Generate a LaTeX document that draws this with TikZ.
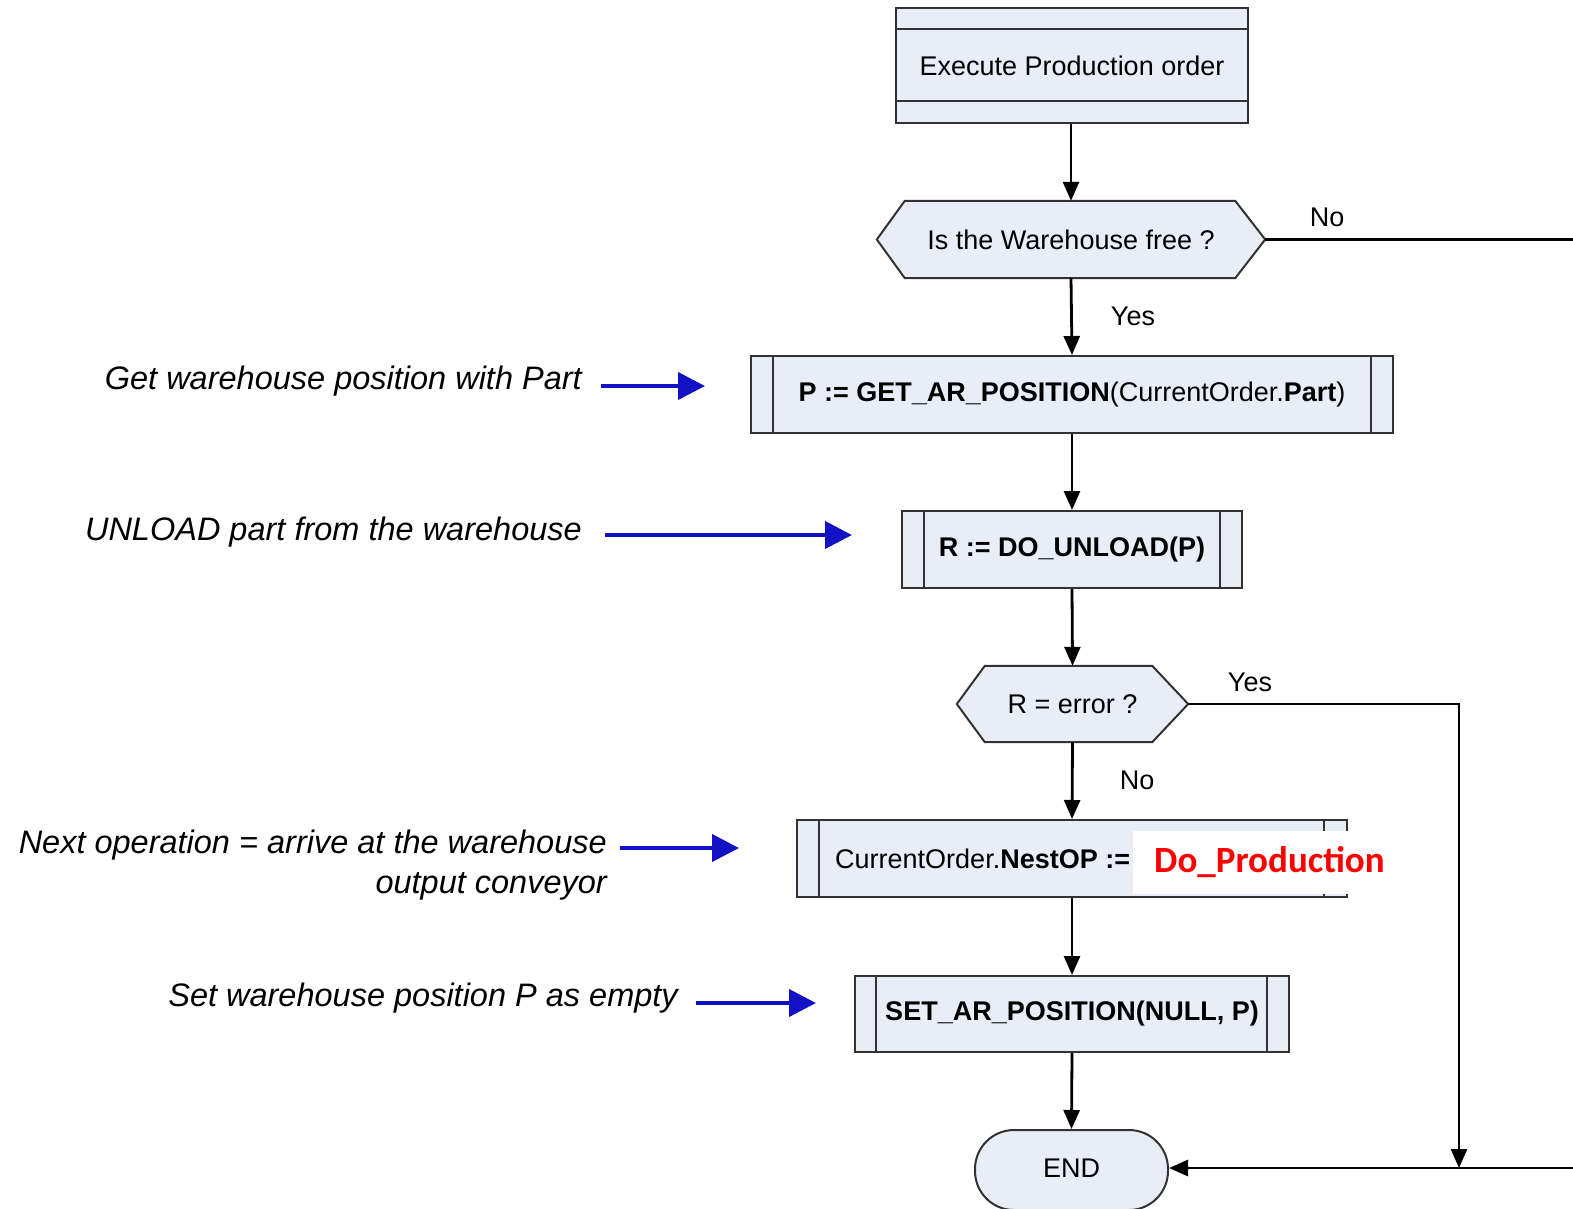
\documentclass[tikz,border=0pt]{standalone}
\usepackage{fontspec}
\setmainfont{Liberation Sans}
\newfontfamily\calfont{Carlito}
\usetikzlibrary{arrows.meta}
\pgfdeclarelayer{bg}
\pgfsetlayers{bg,main}
\definecolor{boxfill}{RGB}{232,237,247}
\definecolor{noteblue}{RGB}{18,18,196}
\definecolor{outline}{RGB}{50,50,50}
\definecolor{hotred}{RGB}{255,0,0}

\begin{document}
\begin{tikzpicture}[x=1pt,y=-1pt,
  base/.style={font=\fontsize{27pt}{32pt}\selectfont, inner sep=0pt},
  procbox/.style={base, draw=outline, line width=2pt, fill=boxfill,
                  minimum width=#1, minimum height=77pt},
  decnode/.style={base, minimum width=#1, minimum height=77pt},
  hexline/.style={draw=outline, line width=2pt, fill=boxfill},
  innerline/.style={outline, line width=1.6pt},
  flow/.style={line width=2.8pt, -{Triangle[length=19pt,width=16pt]}},
  plainflow/.style={line width=2.8pt},
  lbl/.style={base},
  note/.style={font=\fontsize{32.5pt}{40pt}\selectfont\itshape, inner sep=0pt, align=right},
  notearrow/.style={noteblue, line width=4pt, -{Triangle[length=27pt,width=27pt]}}
]
\useasboundingbox (0,0) rectangle (1573,1209);

% --- main chain of steps ---
\node[procbox=352, minimum height=115pt] (start) at (1072,65.5) {Execute Production order};
\draw[innerline] ([yshift=-22]start.north west) -- ([yshift=-22]start.north east);
\draw[innerline] ([yshift=23]start.south west) -- ([yshift=23]start.south east);

\node[decnode=388] (d1) at (1071,239.5) {Is the Warehouse free ?};
\begin{pgfonlayer}{bg}
\draw[hexline] (d1.west) -- ([xshift=28]d1.north west) -- ([xshift=-30]d1.north east)
  -- (d1.east) -- ([xshift=-30]d1.south east) -- ([xshift=28]d1.south west) -- cycle;
\end{pgfonlayer}

\node[procbox=642] (b2) at (1072,394.5)
  {\textbf{P := GET\_AR\_POSITION}(CurrentOrder.\textbf{Part})};
\draw[innerline] ([xshift=23]b2.north west) -- ([xshift=23]b2.south west);
\draw[innerline] ([xshift=-23]b2.north east) -- ([xshift=-23]b2.south east);

\node[procbox=340] (b3) at (1072,549.5) {\textbf{R := DO\_UNLOAD(P)}};
\draw[innerline] ([xshift=23]b3.north west) -- ([xshift=23]b3.south west);
\draw[innerline] ([xshift=-23]b3.north east) -- ([xshift=-23]b3.south east);

\node[decnode=231, minimum height=76pt] (d2) at (1072.5,704) {R = error ?};
\begin{pgfonlayer}{bg}
\draw[hexline] (d2.west) -- ([xshift=28]d2.north west) -- ([xshift=-36]d2.north east)
  -- (d2.east) -- ([xshift=-36]d2.south east) -- ([xshift=28]d2.south west) -- cycle;
\end{pgfonlayer}

\node[procbox=550] (b4) at (1072,858.5) {};
\draw[innerline] ([xshift=23]b4.north west) -- ([xshift=23]b4.south west);
\draw[innerline] ([xshift=-24]b4.north east) -- ([xshift=-24]b4.south east);
\node[base, anchor=west] (b4txt) at (835,858.5) {CurrentOrder.\textbf{NestOP :=}};
\node[fill=white, anchor=west, inner xsep=21pt, inner ysep=0pt, minimum height=63pt,
      font=\calfont\bfseries\fontsize{37pt}{44pt}\selectfont, text=hotred]
  (dp) at (1133,862.5) {Do\_Production};

\node[procbox=434, minimum height=76pt] (b5) at (1072,1014) {\textbf{SET\_AR\_POSITION(NULL, P)}};
\draw[innerline] ([xshift=22]b5.north west) -- ([xshift=22]b5.south west);
\draw[innerline] ([xshift=-23]b5.north east) -- ([xshift=-23]b5.south east);

\node[base, draw=outline, line width=2pt, fill=boxfill, minimum width=193pt,
      minimum height=80pt, rounded corners=39pt] (end) at (1071.5,1170) {};
\node[base] (endtxt) at (1071.5,1168) {END};

% --- connectors ---
\draw[flow] (start.south -| d1.north) -- (d1.north);
\draw[flow] (d1.south) -- (b2.north);
\draw[flow] (b2.south) -- (b3.north);
\draw[flow] (b3.south) -- (d2.north);
\draw[flow] (d2.south) -- (b4.north);
\draw[flow] (b4.south) -- (b5.north);
\draw[flow] (b5.south) -- (end.north);

\coordinate (noR) at (1573,239.5);
\coordinate (endR) at (1573,1168);
\coordinate (join) at (1459,1168);
\draw[plainflow] (d1.east) -- (noR);
\draw[flow] (d2.east) -| (join);
\draw[flow] (endR) -- (end.east |- endR);

% --- branch labels ---
\node[lbl] (lno1) at (1327,217) {No};
\node[lbl] (lyes1) at (1133,316) {Yes};
\node[lbl] (lyes2) at (1250,682) {Yes};
\node[lbl] (lno2) at (1137,780) {No};

% --- side notes ---
\node[note, anchor=east] (n1) at (582,381) {Get warehouse position with Part};
\coordinate (a1s) at (601,386);
\coordinate (a1e) at (705,386);
\draw[notearrow] (a1s) -- (a1e);

\node[note, anchor=east] (n2) at (582,532) {UNLOAD part from the warehouse};
\coordinate (a2s) at (605,535);
\coordinate (a2e) at (852,535);
\draw[notearrow] (a2s) -- (a2e);

\node[note, anchor=east] (n3) at (607,865) {Next operation = arrive at the warehouse\\output conveyor};
\coordinate (a3s) at (620,848);
\coordinate (a3e) at (739,848);
\draw[notearrow] (a3s) -- (a3e);

\node[note, anchor=east] (n4) at (678,998) {Set warehouse position P as empty};
\coordinate (a4s) at (696,1003);
\coordinate (a4e) at (816,1003);
\draw[notearrow] (a4s) -- (a4e);
\end{tikzpicture}
\end{document}
